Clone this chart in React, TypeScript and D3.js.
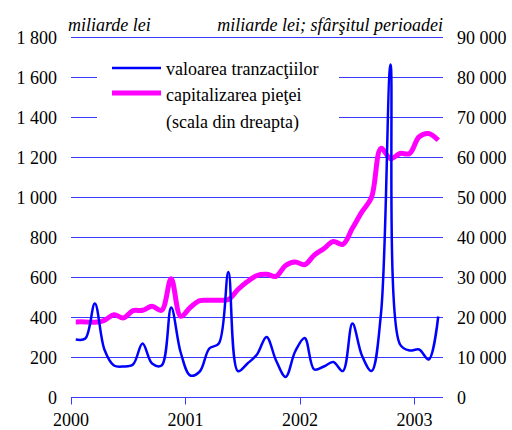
import React from 'react'
import * as d3 from 'd3'

// monthly, Jan 2000 .. Mar 2003
const months = d3.range(39)
const tranzactii = [
  290, 295, 470, 240, 160, 155, 165, 270, 170, 160, 450, 225,
  110, 130, 245, 270, 627, 132, 170, 215, 303, 185, 103, 230,
  298, 140, 155, 177, 132, 370, 210, 132, 420, 1665, 265, 235,
  240, 190, 405
]
const capitalizare = [
  18900, 18900, 18800, 19300, 20700, 19900, 21700, 21800, 22800, 21800, 29700, 20300,
  22500, 24200, 24300, 24300, 24500, 27000, 29000, 30500, 30800, 30300, 33000, 33900,
  33200, 35600, 37200, 39000, 38300, 42300, 46400, 50000, 62300, 59700, 61000, 61000,
  65200, 66000, 64300
]
const leftTicks = d3.range(0, 1801, 200)
const rightTicks = d3.range(0, 90001, 10000)
const yearTicks = [0, 12, 24, 36]
const yearLabels = ['2000', '2001', '2002', '2003']

const fmt = (v: number) => d3.format(',')(v).replace(/,/g, '\u00a0')

export default function App() {
  const W = 512, H = 430
  const x = d3.scaleLinear().domain([0, 39]).range([71, 443])
  const yL = d3.scaleLinear().domain([0, 1800]).range([397.5, 37.5])
  const yR = d3.scaleLinear().domain([0, 90000]).range([397.5, 37.5])

  const blueLine = d3.line<number>()
    .x((_, i) => x(months[i] + 0.5))
    .y(d => yL(d))
    .curve(d3.curveCatmullRom.alpha(0.5))
  const pinkLine = d3.line<number>()
    .x((_, i) => x(months[i] + 0.5))
    .y(d => yR(d))
    .curve(d3.curveCatmullRom.alpha(0.5))

  return (
    <svg width={W} height={H}
      style={{ position: 'absolute', left: 0, top: 0, background: '#fff', fontFamily: 'Liberation Serif, Times New Roman, DejaVu Serif, serif', fontSize: 18 }}>
      {leftTicks.map(t => (
        <line key={t} x1={x(0)} x2={x(39)} y1={yL(t)} y2={yL(t)} stroke="#3a3aff" strokeWidth={1} />
      ))}
      {yearTicks.map(t => (
        <line key={t} x1={Math.round(x(t)) + 0.5} x2={Math.round(x(t)) + 0.5} y1={yL(0)} y2={yL(0) + 7}
          stroke="#3a3aff" strokeWidth={1} />
      ))}
      {leftTicks.map(t => (
        <text key={t} x={57} y={yL(t) + 6} textAnchor="end">{fmt(t)}</text>
      ))}
      {rightTicks.map(t => (
        <text key={t} x={457} y={yR(t) + 6}>{fmt(t)}</text>
      ))}
      {yearTicks.map((t, i) => (
        <text key={t} x={x(t)} y={426} textAnchor="middle">{yearLabels[i]}</text>
      ))}
      <text x={68} y={31} fontStyle="italic">miliarde lei</text>
      <text x={443} y={31} fontStyle="italic" textAnchor="end">miliarde lei; sfârşitul perioadei</text>

      <path d={pinkLine(capitalizare) ?? ''} fill="none" stroke="#ff00ff" strokeWidth={5} strokeLinejoin="round" />
      <path d={blueLine(tranzactii) ?? ''} fill="none" stroke="#0000ff" strokeWidth={2.5} strokeLinejoin="round" />

      <g>
        <rect x={97} y={48} width={242} height={92} fill="#fff" />
        <line x1={112} x2={161} y1={68} y2={68} stroke="#0000ff" strokeWidth={2.5} />
        <text x={166} y={75}>valoarea tranzacţiilor</text>
        <line x1={112} x2={161} y1={93} y2={93} stroke="#ff00ff" strokeWidth={5} />
        <text x={166} y={101}>capitalizarea pieţei</text>
        <text x={166} y={128}>(scala din dreapta)</text>
      </g>
    </svg>
  )
}
